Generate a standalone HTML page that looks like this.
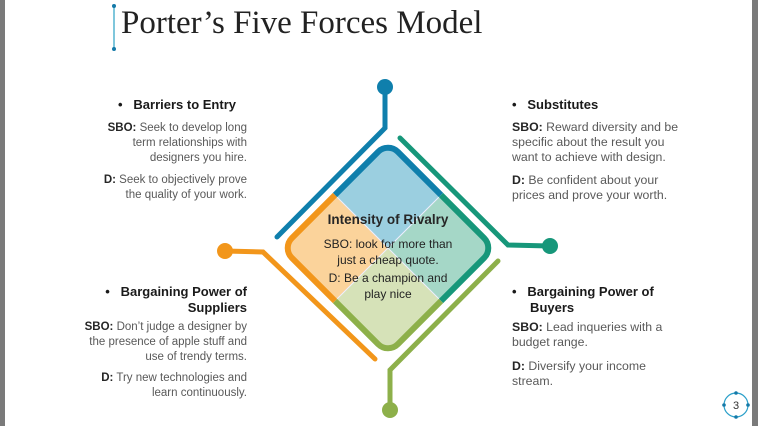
<!DOCTYPE html>
<html><head><meta charset="utf-8"><style>
html,body{margin:0;padding:0}
body{width:758px;height:426px;position:relative;overflow:hidden;background:#fff;font-family:"Liberation Sans",Arial,sans-serif}
.t{position:absolute;font-size:11.5px;line-height:15px;color:#595959;white-space:nowrap}
.t b{color:#262626}
.rt{font-size:12.3px}
.h{position:absolute;font-size:13px;font-weight:bold;color:#1a1a1a;line-height:16px;white-space:nowrap}
.r{text-align:right}
.ab{position:absolute}
</style></head><body>
<div class="ab" style="left:0;top:0;width:5px;height:426px;background:#7a7a7a"></div>
<div class="ab" style="left:752px;top:0;width:6px;height:426px;background:#7a7a7a"></div>
<div class="ab" style="left:113px;top:6px;width:2px;height:43px;background:#7fc7dc"></div>
<div class="ab" style="left:112px;top:4px;width:4px;height:4px;border-radius:50%;background:#1479a8"></div>
<div class="ab" style="left:112px;top:47px;width:4px;height:4px;border-radius:50%;background:#1479a8"></div>
<div class="ab" style="left:121px;top:5px;font-family:'Liberation Serif',serif;font-size:33px;color:#222;white-space:nowrap">Porter’s Five Forces Model</div>

<svg class="ab" style="left:0;top:0" width="758" height="426">
<g fill="none" stroke-width="5" stroke-linecap="round">
<polyline points="385,87 385,128 277,237" stroke="#0f7fac"/>
<polyline points="400,138 508,245 550,246" stroke="#17977a"/>
<polyline points="225,251 263,252 375,359" stroke="#f2961b"/>
<polyline points="498,261 390,370 390,410" stroke="#8db04a"/>
</g>
<circle cx="385" cy="87" r="8" fill="#0f7fac"/>
<circle cx="550" cy="246" r="8" fill="#17977a"/>
<circle cx="225" cy="251" r="8" fill="#f2961b"/>
<circle cx="390" cy="410" r="8" fill="#8db04a"/>
<g transform="translate(388,248) rotate(45)">
<clipPath id="c"><rect x="-75" y="-75" width="150" height="150" rx="14"/></clipPath>
<g clip-path="url(#c)">
<rect x="-75" y="-75" width="75" height="75" fill="#9bcfe0"/>
<rect x="0" y="-75" width="75" height="75" fill="#a5d7c7"/>
<rect x="0" y="0" width="75" height="75" fill="#d6e2b8"/>
<rect x="-75" y="0" width="75" height="75" fill="#fbd39b"/>
<line x1="0" y1="-75" x2="0" y2="75" stroke="#eef" stroke-width="1"/>
<line x1="-75" y1="0" x2="75" y2="0" stroke="#eef" stroke-width="1"/>
</g>
<g fill="none" stroke-width="6">
<path d="M-75,0 V-61 A14,14 0 0 1 -61,-75 H0" stroke="#0f7fac"/>
<path d="M0,-75 H61 A14,14 0 0 1 75,-61 V0" stroke="#17977a"/>
<path d="M75,0 V61 A14,14 0 0 1 61,75 H0" stroke="#8db04a"/>
<path d="M0,75 H-61 A14,14 0 0 1 -75,61 V0" stroke="#f2961b"/>
</g>
</g>
</svg>

<div class="ab" style="left:288px;top:212px;width:200px;text-align:center;font-size:13.5px;font-weight:bold;color:#262626">Intensity of Rivalry</div>
<div class="ab" style="left:288px;top:237px;width:200px;text-align:center;font-size:12px;line-height:15.5px;color:#222">SBO: look for more than<br>just a cheap quote.</div>
<div class="ab" style="left:288px;top:271px;width:200px;text-align:center;font-size:12px;line-height:15.5px;color:#222">D: Be a champion and<br>play nice</div>

<div class="h" style="left:118px;top:97px">•&nbsp;&nbsp;&nbsp;Barriers to Entry</div>
<div class="t r" style="right:511px;top:121px"><b>SBO:</b> Seek to develop long<br>term relationships with<br>designers you hire.</div>
<div class="t r" style="right:511px;top:173px"><b>D:</b> Seek to objectively prove<br>the quality of your work.</div>

<div class="h r" style="right:511px;top:284px">•&nbsp;&nbsp;&nbsp;Bargaining Power of<br>Suppliers</div>
<div class="t r" style="right:511px;top:320px"><b>SBO:</b> Don’t judge a designer by<br>the presence of apple stuff and<br>use of trendy terms.</div>
<div class="t r" style="right:511px;top:371px"><b>D:</b> Try new technologies and<br>learn continuously.</div>

<div class="h" style="left:512px;top:97px">•&nbsp;&nbsp;&nbsp;Substitutes</div>
<div class="t rt" style="left:512px;top:120px"><b>SBO:</b> Reward diversity and be<br>specific about the result you<br>want to achieve with design.</div>
<div class="t rt" style="left:512px;top:173px"><b>D:</b> Be confident about your<br>prices and prove your worth.</div>

<div class="h" style="left:512px;top:284px">•&nbsp;&nbsp;&nbsp;Bargaining Power of<br>&nbsp;&nbsp;&nbsp;&nbsp;&nbsp;Buyers</div>
<div class="t rt" style="left:512px;top:320px"><b>SBO:</b> Lead inqueries with a<br>budget range.</div>
<div class="t rt" style="left:512px;top:359px"><b>D:</b> Diversify your income<br>stream.</div>

<svg class="ab" style="left:721px;top:390px" width="32" height="32">
<circle cx="15" cy="15" r="12" fill="#fff" stroke="#2a9fc9" stroke-width="1.2"/>
<circle cx="15" cy="3" r="1.8" fill="#1479a8"/><circle cx="15" cy="27" r="1.8" fill="#1479a8"/>
<circle cx="3" cy="15" r="1.8" fill="#1479a8"/><circle cx="27" cy="15" r="1.8" fill="#1479a8"/>
<text x="15" y="19" text-anchor="middle" font-family="Liberation Sans" font-size="11" fill="#333">3</text>
</svg>
</body></html>
